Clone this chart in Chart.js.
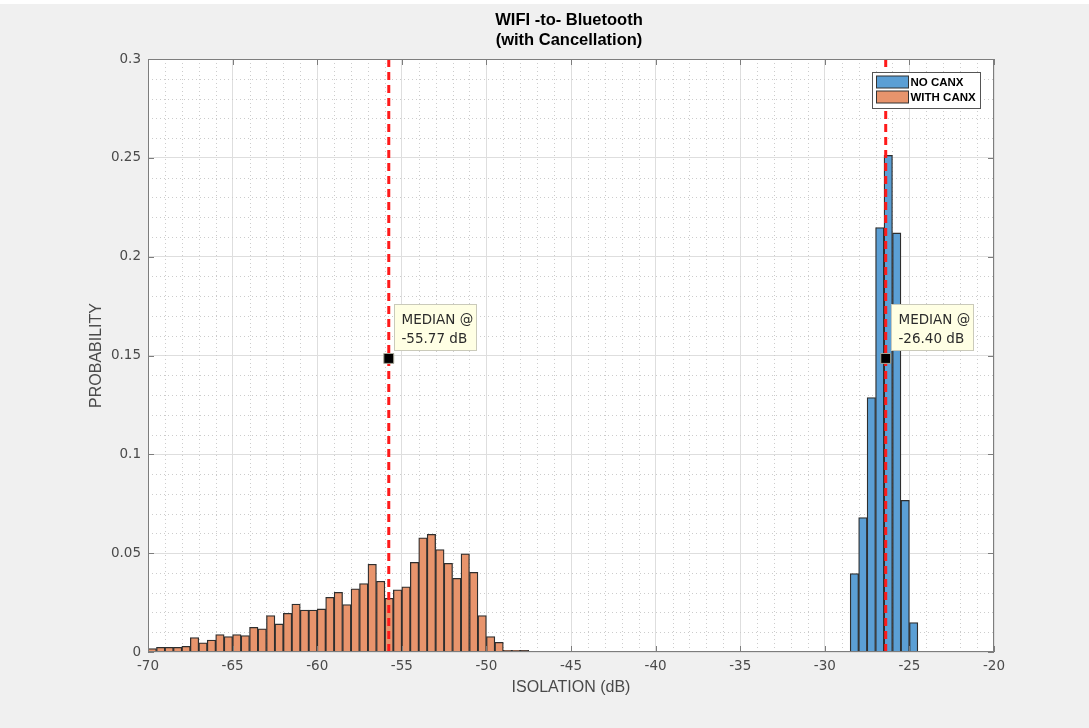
<!DOCTYPE html>
<html>
<head>
<meta charset="utf-8">
<script src="https://cdn.jsdelivr.net/npm/chart.js@4.4.1/dist/chart.umd.min.js"></script>
<style>
html,body{margin:0;padding:0;background:#ffffff;overflow:hidden;}
canvas{display:block;}
</style>
</head>
<body>
<canvas id="c" width="1089" height="728"></canvas>
<script>
// ---- data ----
const chartTitle = ['WIFI -to- Bluetooth', '(with Cancellation)'];
const xAxisTitle = 'ISOLATION (dB)';
const yAxisTitle = 'PROBABILITY';
const seriesNames = ['NO CANX', 'WITH CANX'];
const binWidth = 0.5;
const withCanxStart = -70;   // left edge of first WITH CANX bin (dB)
const withCanx = [0.0017,0.0024,0.0024,0.0024,0.0029,0.0073,0.0047,0.0060,0.0088,0.0078,
                  0.0088,0.0083,0.0125,0.0117,0.0184,0.0142,0.0196,0.0243,0.0212,0.0212,
                  0.0218,0.0277,0.0302,0.0240,0.0320,0.0346,0.0444,0.0358,0.0272,0.0315,
                  0.0330,0.0454,0.0578,0.0595,0.0518,0.0449,0.0373,0.0497,0.0403,0.0184,
                  0.0078,0.0049,0.0009,0.0009,0.0008,0.0003];
const noCanxStart = -28.5;   // left edge of first NO CANX bin (dB)
const noCanx = [0.0397,0.0680,0.1287,0.2147,0.2513,0.2120,0.0767,0.0149];
const medians = [-55.77, -26.40];
const medianMarkerY = [0.1485, 0.1485];
const xTickValues = [-70,-65,-60,-55,-50,-45,-40,-35,-30,-25,-20];
const xTickLabels = ['-70','-65','-60','-55','-50','-45','-40','-35','-30','-25','-20'];
const yTickValues = [0,0.05,0.1,0.15,0.2,0.25,0.3];
const yTickLabels = ['0','0.05','0.1','0.15','0.2','0.25','0.3'];

// ---- build datasets ----
const toBins = (start, vals) => vals.map((v, i) => ({x: start + (i + 0.5) * binWidth, y: v}));
const blue = '#5b9fd5', orange = '#e8946c';
const axisColor = '#7d7d7d';

const labelFor = (list, vals, v) => {
  for (let i = 0; i < vals.length; i++) if (Math.abs(vals[i] - v) < 1e-9) return list[i];
  return '';
};

const decor = {
  id: 'decor',
  beforeDraw(chart) {
    const {ctx, chartArea: a, width, height} = chart;
    ctx.save();
    ctx.fillStyle = '#f0f0f0';
    ctx.fillRect(0, 0, width, height);
    ctx.fillStyle = '#ffffff';
    ctx.fillRect(0, 0, width, 4);
    ctx.fillRect(a.left, a.top, a.right - a.left, a.bottom - a.top);
    ctx.restore();
  },
  beforeDatasetsDraw(chart) {
    const {ctx, chartArea: a, scales: {x, y}} = chart;
    ctx.save();
    ctx.strokeStyle = '#cccccc';
    ctx.lineWidth = 1;
    ctx.setLineDash([1, 3]);
    for (let v = -69; v < -20; v += 1) {
      if (v % 5 === 0) continue;
      const px = Math.round(x.getPixelForValue(v)) + 0.5;
      ctx.beginPath(); ctx.moveTo(px, a.top); ctx.lineTo(px, a.bottom); ctx.stroke();
    }
    for (let k = 1; k < 30; k++) {
      if (k % 5 === 0) continue;
      const py = Math.round(y.getPixelForValue(k / 100)) + 0.5;
      ctx.beginPath(); ctx.moveTo(a.left, py); ctx.lineTo(a.right, py); ctx.stroke();
    }
    ctx.restore();
  },
  afterDatasetsDraw(chart) {
    const {ctx, chartArea: a, scales: {x, y}} = chart;
    ctx.save();
    // axes box
    ctx.strokeStyle = axisColor;
    ctx.lineWidth = 1;
    ctx.setLineDash([]);
    ctx.strokeRect(Math.round(a.left) + 0.5, Math.round(a.top) + 0.5,
                   Math.round(a.right - a.left) - 1, Math.round(a.bottom - a.top) - 1);
    // inward ticks
    ctx.beginPath();
    xTickValues.forEach(v => {
      const px = Math.round(x.getPixelForValue(v)) + 0.5;
      ctx.moveTo(px, a.bottom); ctx.lineTo(px, a.bottom - 6);
      ctx.moveTo(px, a.top); ctx.lineTo(px, a.top + 6);
    });
    yTickValues.forEach(v => {
      const py = Math.round(y.getPixelForValue(v)) + 0.5;
      ctx.moveTo(a.left, py); ctx.lineTo(a.left + 6, py);
      ctx.moveTo(a.right, py); ctx.lineTo(a.right - 6, py);
    });
    ctx.stroke();

    // median data tips
    medians.forEach((m, i) => {
      const mx = x.getPixelForValue(m);
      const my = y.getPixelForValue(medianMarkerY[i]);
      const bx = Math.round(mx + 5) + 0.5, by = Math.round(my - 54) + 0.5;
      ctx.fillStyle = '#ffffe4';
      ctx.strokeStyle = '#cacaba';
      ctx.lineWidth = 1;
      ctx.fillRect(bx, by, 82, 46);
      ctx.strokeRect(bx, by, 82, 46);
      ctx.fillStyle = '#2b2b2b';
      ctx.font = '13.5px "DejaVu Sans"';
      ctx.textAlign = 'left';
      ctx.textBaseline = 'middle';
      ctx.fillText('MEDIAN @', bx + 7, by + 16);
      ctx.fillText(m.toFixed(2) + ' dB', bx + 7, by + 35);
    });

    // legend
    const lx = 872.5, ly = 72.5;
    ctx.fillStyle = '#ffffff';
    ctx.fillRect(lx, ly, 108, 36);
    ctx.strokeStyle = '#555555';
    ctx.strokeRect(lx, ly, 108, 36);
    [[blue, seriesNames[0]], [orange, seriesNames[1]]].forEach(([col, name], i) => {
      const sy = ly + 3.5 + i * 15;
      ctx.fillStyle = col;
      ctx.fillRect(lx + 4, sy, 32, 12);
      ctx.strokeStyle = '#333333';
      ctx.strokeRect(lx + 4, sy, 32, 12);
      ctx.fillStyle = '#000000';
      ctx.font = 'bold 11.5px "Liberation Sans"';
      ctx.textAlign = 'left';
      ctx.textBaseline = 'middle';
      ctx.fillText(name, lx + 38, sy + 6.5);
    });

    // titles
    ctx.fillStyle = '#000000';
    ctx.font = 'bold 16.5px "Liberation Sans"';
    ctx.textAlign = 'center';
    ctx.textBaseline = 'middle';
    ctx.fillText(chartTitle[0], 569, 20);
    ctx.fillText(chartTitle[1], 569, 40);

    ctx.fillStyle = '#4a4a4a';
    ctx.font = '16px "Liberation Sans"';
    ctx.fillText(xAxisTitle, (a.left + a.right) / 2, 688);
    ctx.save();
    ctx.translate(97, (a.top + a.bottom) / 2);
    ctx.rotate(-Math.PI / 2);
    ctx.fillText(yAxisTitle, 0, 0);
    ctx.restore();
    ctx.restore();
  }
};

const tickFont = {family: '"DejaVu Sans"', size: 13.5};

new Chart(document.getElementById('c'), {
  type: 'bar',
  data: {
    datasets: [
      {
        type: 'line', label: 'median markers', order: -1,
        data: medians.map((m, i) => ({x: m, y: medianMarkerY[i]})),
        showLine: false, pointStyle: 'rect', pointRadius: 7, pointHoverRadius: 7,
        pointBackgroundColor: '#000000', pointBorderColor: '#a8a898', pointBorderWidth: 1
      },
      {
        type: 'line', label: 'median ' + medians[0], order: 0,
        data: [{x: medians[0], y: 0}, {x: medians[0], y: 0.3}],
        borderColor: '#ff1a1a', borderWidth: 3, borderDash: [8, 5], pointRadius: 0, fill: false
      },
      {
        type: 'line', label: 'median ' + medians[1], order: 0,
        data: [{x: medians[1], y: 0}, {x: medians[1], y: 0.3}],
        borderColor: '#ff1a1a', borderWidth: 3, borderDash: [8, 5], pointRadius: 0, fill: false
      },
      {
        label: seriesNames[0], order: 1, data: toBins(noCanxStart, noCanx),
        backgroundColor: blue, borderColor: '#2e2e2e', borderWidth: 1.3,
        barPercentage: 1, categoryPercentage: 1, grouped: false
      },
      {
        label: seriesNames[1], order: 1, data: toBins(withCanxStart, withCanx),
        backgroundColor: orange, borderColor: '#2e2e2e', borderWidth: 1.3,
        barPercentage: 1, categoryPercentage: 1, grouped: false
      }
    ]
  },
  options: {
    responsive: false,
    animation: false,
    events: [],
    devicePixelRatio: 1,
    layout: {padding: {left: 0, top: 59, right: 95, bottom: 0}},
    plugins: {legend: {display: false}, title: {display: false}, tooltip: {enabled: false}},
    scales: {
      x: {
        type: 'linear', min: -70, max: -20, offset: false,
        afterFit: s => { s.height = 76; },
        afterBuildTicks: s => { s.ticks = xTickValues.map(v => ({value: v})); },
        ticks: {
          callback: v => labelFor(xTickLabels, xTickValues, v),
          font: tickFont, color: '#4a4a4a', padding: 6, maxRotation: 0, autoSkip: false
        },
        grid: {color: '#dedede', lineWidth: 1, drawTicks: false, offset: false},
        border: {display: false}
      },
      y: {
        type: 'linear', min: 0, max: 0.3,
        afterFit: s => { s.width = 148; },
        afterBuildTicks: s => { s.ticks = yTickValues.map(v => ({value: v})); },
        ticks: {
          callback: v => labelFor(yTickLabels, yTickValues, v),
          font: tickFont, color: '#4a4a4a', padding: 7, autoSkip: false
        },
        grid: {color: '#dedede', lineWidth: 1, drawTicks: false},
        border: {display: false}
      }
    }
  },
  plugins: [decor]
});
</script>
</body>
</html>
